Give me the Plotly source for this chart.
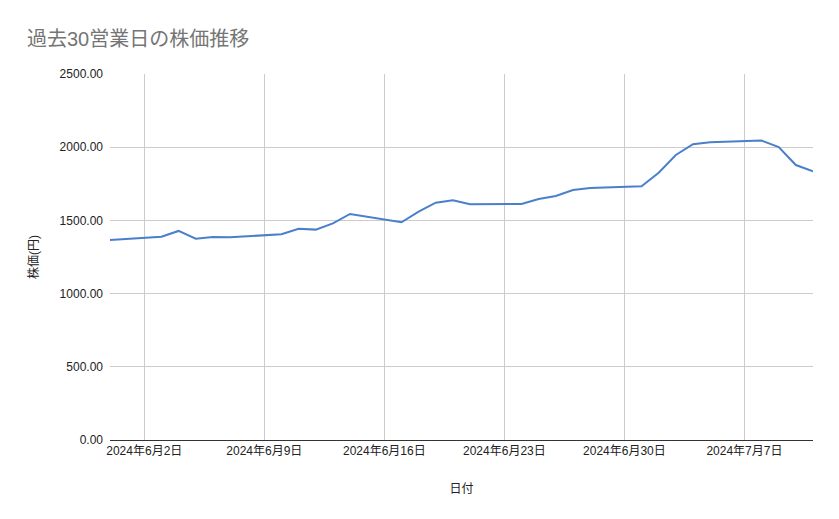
import plotly.graph_objects as go
import datetime as dt

# 過去30営業日の終値 (円)
dates = [
    "2024-05-31",
    "2024-06-03", "2024-06-04", "2024-06-05", "2024-06-06", "2024-06-07",
    "2024-06-10", "2024-06-11", "2024-06-12", "2024-06-13", "2024-06-14",
    "2024-06-17", "2024-06-18", "2024-06-19", "2024-06-20", "2024-06-21",
    "2024-06-24", "2024-06-25", "2024-06-26", "2024-06-27", "2024-06-28",
    "2024-07-01", "2024-07-02", "2024-07-03", "2024-07-04", "2024-07-05",
    "2024-07-08", "2024-07-09", "2024-07-10", "2024-07-11",
]
prices = [
    1366,
    1389, 1428, 1375, 1387, 1385,
    1405, 1443, 1437, 1480, 1544,
    1487, 1560, 1621, 1637, 1610,
    1612, 1646, 1667, 1708, 1721,
    1733, 1826, 1947, 2020, 2033,
    2045, 2001, 1878, 1835,
]

tick_dates = ["2024-06-02", "2024-06-09", "2024-06-16", "2024-06-23", "2024-06-30", "2024-07-07"]
tick_labels = []
for d in tick_dates:
    t = dt.date.fromisoformat(d)
    tick_labels.append("{0}年{1}月{2}日".format(t.year, t.month, t.day))

y_ticks = [0, 500, 1000, 1500, 2000, 2500]

font_family = "'Liberation Sans', Arial, 'Noto Sans CJK JP', sans-serif"

# the page body has an 8px margin, so the figure is 8px smaller than the window
W = 831
H = 511

fig = go.Figure()
fig.add_trace(
    go.Scatter(
        mode='lines',
        name='株価',
        x=dates,
        y=prices,
        line=dict(color='#4a7fcb', width=2),
    ))

fig.update_layout(
    width=W,
    height=H,
    margin=dict(l=102, r=26, t=66, b=79),
    plot_bgcolor='white',
    paper_bgcolor='white',
    showlegend=False,
    font=dict(family=font_family, size=12, color='#222222'),
    title=dict(
        text='過去30営業日の株価推移',
        font=dict(family=font_family, size=20, color='#757575'),
        xref='container', x=19/W, xanchor='left',
        yref='container', y=1-31/H, yanchor='middle',
    ),
)

fig.update_xaxes(
    range=['2024-05-31', '2024-07-11'],
    tickvals=tick_dates,
    ticktext=tick_labels,
    tickfont=dict(size=12, color='#222222'),
    showgrid=True,
    gridcolor='#cccccc',
    gridwidth=1,
    showline=True,
    linecolor='#333333',
    linewidth=1,
    ticks='',
    zeroline=False,
    title=dict(text='日付', standoff=27, font=dict(size=12, color='#222222')),
)

fig.update_yaxes(
    range=[0, 2500],
    tickvals=y_ticks,
    tickformat='.2f',
    tickfont=dict(size=12, color='#222222'),
    showgrid=True,
    gridcolor='#cccccc',
    gridwidth=1,
    zeroline=False,
    ticks='',
    ticklabelstandoff=6,
    title=dict(text='株価(円)', standoff=18, font=dict(size=12, color='#222222')),
)

fig.write_html("out.html")
